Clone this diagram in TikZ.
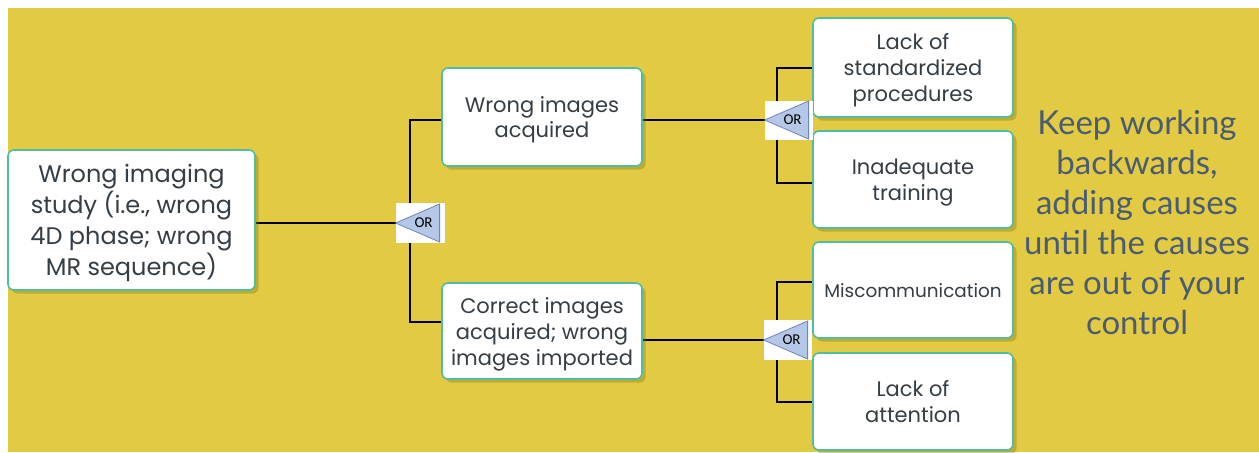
\documentclass[tikz,border=0pt]{standalone}
\usepackage{fontspec}
\setmainfont{Poppins}
\newfontfamily\latofont{Lato}
\newfontfamily\orfont{Carlito}
\usetikzlibrary{shadows,calc}
\pgfdeclarelayer{bglayer}
\pgfdeclarelayer{linelayer}
\pgfsetlayers{bglayer,linelayer,main}
\definecolor{bgyellow}{HTML}{E2CB42}
\definecolor{boxteal}{HTML}{4DBFA0}
\definecolor{boxtext}{HTML}{353D45}
\definecolor{gatefill}{HTML}{B4C7E7}
\definecolor{gateline}{HTML}{6F87B8}
\definecolor{notetext}{HTML}{4A5C74}
\definecolor{shadowcol}{HTML}{8C7A20}
\begin{document}
\begin{tikzpicture}[x=0.5pt,y=-0.5pt,
  box/.style={draw=boxteal, line width=0.8pt, fill=white, rounded corners=3pt,
    inner sep=0pt, align=center, text=boxtext, text depth=0pt,
    font=\fontsize{10.5}{13}\selectfont,
    drop shadow={shadow xshift=1.8pt, shadow yshift=-1.8pt, fill=shadowcol, opacity=0.4}},
  gate/.style={fill=white, inner sep=0pt, minimum width=24.5pt, minimum height=20pt},
  gatetri/.style={fill=gatefill, draw=gateline, line width=0.4pt},
  gatelabel/.style={font=\orfont\fontsize{7.5}{8}\selectfont, text=black, inner sep=0pt},
  conn/.style={draw=black, line width=0.9pt}]
\useasboundingbox (0,0) rectangle (1259,452);
\begin{pgfonlayer}{bglayer}
  \fill[white] (0,0) rectangle (1259,452);
  \fill[bgyellow] (8,8) rectangle (1259,452);
\end{pgfonlayer}

% boxes
\node[box, minimum width=123.5pt, minimum height=70pt,
  font=\fontsize{12}{15.5}\selectfont] (root) at (131.5,220)
  {Wrong imaging\\study (i.e., wrong\\4D phase; wrong\\MR sequence)};
\node[box, minimum width=100pt, minimum height=49pt] (b1) at (542,117)
  {Wrong images\\acquired};
\node[box, minimum width=100pt, minimum height=48pt] (b2) at (542,331)
  {Correct images\\acquired; wrong\\images imported};
\node[box, minimum width=100pt, minimum height=49.5pt] (r1) at (913,67.5)
  {Lack of\\standardized\\procedures};
\node[box, minimum width=100pt, minimum height=48.5pt] (r2) at (913,179.5)
  {Inadequate\\training};
\node[box, minimum width=100pt, minimum height=48pt,
  font=\fontsize{9.2}{12}\selectfont] (r3) at (913,290)
  {Miscommunication};
\node[box, minimum width=100pt, minimum height=48.5pt] (r4) at (913,401.5)
  {Lack of\\attention};

% gates
\node[gate] (g1) at (420.5,223) {};
\node[gate, minimum width=24pt, minimum height=19.5pt] (g2) at (789,120) {};
\node[gate, minimum width=24pt] (g3) at (788,340) {};
\foreach \g in {g1,g2,g3}{
  \fill[gatetri] (\g.west) -- ($(\g.west)+(44,-19)$) -- ($(\g.west)+(44,19)$) -- cycle;
  \node[gatelabel] (\g lbl) at ($(\g.west)+(28,0)$) {OR};
}

% connectors
\coordinate (j1t) at (410,120);
\coordinate (j1b) at (410,322);
\coordinate (j2t) at (777,68);
\coordinate (j2b) at (777,183);
\coordinate (j3t) at (777,282);
\coordinate (j3b) at (777,402);
\begin{pgfonlayer}{linelayer}
  \draw[conn] (root.east |- g1.west) -- (g1.west);
  \draw[conn] (b1.west |- j1t) -- (j1t) -- (j1b) -- (b2.west |- j1b);
  \draw[conn] (b1.east |- g2.west) -- (g2.west);
  \draw[conn] (r1.west |- j2t) -- (j2t) -- (j2b) -- (r2.west |- j2b);
  \draw[conn] (b2.east |- g3.west) -- (g3.west);
  \draw[conn] (r3.west |- j3t) -- (j3t) -- (j3b) -- (r4.west |- j3b);
\end{pgfonlayer}

% note
\node[font=\latofont\fontsize{16.5}{20}\selectfont, text=notetext, align=center, inner sep=0pt]
  (note) at (1137,222)
  {Keep working\\backwards,\\adding causes\\until the causes\\are out of your\\control};
\end{tikzpicture}
\end{document}
